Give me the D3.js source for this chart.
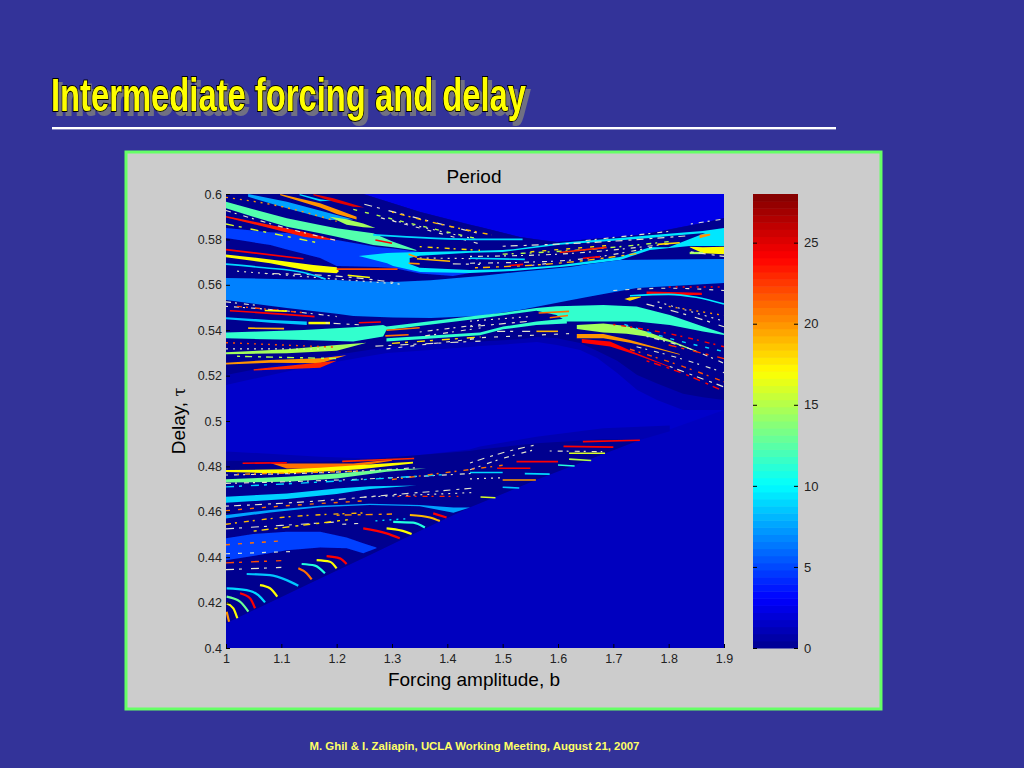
<!DOCTYPE html>
<html><head><meta charset="utf-8">
<script src="https://cdn.jsdelivr.net/npm/d3@7/dist/d3.min.js"></script>
<style>html,body{margin:0;padding:0;background:#333399;overflow:hidden}svg{display:block}</style>
</head><body><svg id="c" width="1024" height="768"></svg>
<script>
const titleText="Intermediate forcing and delay";
const plotTitle="Period";
const xLabel="Forcing amplitude, b";
const footer="M. Ghil & I. Zaliapin, UCLA Working Meeting, August 21, 2007";
const xTicks=[1,1.1,1.2,1.3,1.4,1.5,1.6,1.7,1.8,1.9];
const yTicks=[0.4,0.42,0.44,0.46,0.48,0.5,0.52,0.54,0.56,0.58,0.6];
const cTicks=[0,5,10,15,20,25];

// Regions of the map: each station is [b, tau upper edge, tau lower edge]
const upperSky=[[1.248,.6,.6],[1.291,.6,.5967],[1.351,.6,.5921],[1.459,.6,.5855],[1.531,.6,.5811],[1.598,.6,.5789],[1.743,.6,.5819],[1.862,.6,.5872],[1.9,.6,.5894]];
const lowerTriangle=[[1,.4109,.4],[1.44,.4619,.4],[1.573,.4753,.4],[1.748,.4916,.4],[1.9,.5048,.4]];
const navyOuter=[[1,.6,.5159],[1.139,.6,.5234],[1.248,.6,.5282],[1.291,.5967,.53],[1.351,.5921,.531],[1.441,.5865,.5326],[1.459,.5855,.533],[1.531,.5811,.5342],[1.562,.58,.5348],[1.598,.5789,.5335],[1.64,.5797,.5313],[1.671,.5804,.5278],[1.707,.5811,.5211],[1.743,.5819,.5137],[1.779,.5833,.5093],[1.826,.5856,.5048],[1.862,.5872,.5048],[1.9,.5894,.5048]];
const navyInner=[[1,.6,.5203],[1.139,.6,.5269],[1.248,.6,.531],[1.291,.5967,.5326],[1.351,.5921,.5335],[1.441,.5865,.5348],[1.459,.5855,.535],[1.531,.5811,.536],[1.562,.58,.537],[1.598,.5789,.5365],[1.64,.5797,.5344],[1.671,.5804,.5308],[1.707,.5811,.5265],[1.743,.5819,.5203],[1.779,.5833,.5165],[1.826,.5856,.512],[1.862,.5872,.5105],[1.9,.5894,.5093]];
const lowerOuter=[[1,.4866,.4109],[1.17,.4843,.4306],[1.26,.4835,.441],[1.35,.485,.4515],[1.44,.4875,.4619],[1.459,.4888,.4638],[1.561,.4931,.4741],[1.682,.4968,.4855],[1.748,.4975,.4916],[1.802,.498,.4955]];
const lowerInner=[[1,.4825,.4109],[1.17,.482,.4306],[1.26,.483,.441],[1.35,.485,.4515],[1.44,.4868,.4619],[1.459,.4875,.4638],[1.561,.4902,.4741],[1.682,.492,.4855],[1.748,.4916,.4916]];
const blueBand=[[1,.585,.5806],[1.08,.5832,.5775],[1.11,.5828,.5755],[1.17,.5808,.5718],[1.2,.5797,.5683],[1.273,.5767,.5678],[1.302,.576,.5674],[1.351,.5745,.565],[1.41,.574,.5639],[1.441,.5652,.5652]];
const cyanLobe=[[1.24,.5727,.5727],[1.291,.574,.5695],[1.302,.5741,.5683],[1.351,.5745,.5656],[1.441,.5749,.5652],[1.5,.5753,.5659],[1.519,.5757,.5661],[1.603,.5784,.5678],[1.622,.5788,.5683],[1.712,.5806,.5709],[1.766,.5818,.5753],[1.838,.5833,.5771],[1.862,.5837,.5771],[1.9,.585,.5771]];
const cyanNotch=[[1.332,.5718,.5692],[1.35,.5728,.5675],[1.441,.5741,.5665],[1.5,.5745,.5668],[1.603,.5776,.5686],[1.712,.5796,.5722],[1.766,.5806,.5765],[1.8,.5815,.5765],[1.866,.5828,.5828]];
const wideBand=[[1,.563,.5533],[1.11,.5625,.5498],[1.2,.5621,.5473],[1.23,.5617,.5463],[1.302,.5612,.5456],[1.37,.562,.5454],[1.459,.5639,.5463],[1.531,.5658,.5489],[1.622,.5678,.5532],[1.653,.5691,.5546],[1.712,.5709,.5573],[1.743,.571,.5586],[1.9,.5714,.5608]];
const ribbonA=[[1.04,.6,.5988],[1.11,.5966,.5937],[1.188,.5915,.5886],[1.23,.5888,.5888]];
const ribbonA2=[[1.188,.59,.5899],[1.218,.5889,.5865],[1.248,.587,.5853],[1.27,.585,.585]];
const ribbonB=[[1.098,.6,.5994],[1.17,.5959,.5941],[1.2,.5933,.5912],[1.236,.59,.5888]];
const ribbonC=[[1.158,.6,.5994],[1.194,.5981,.5966],[1.23,.5955,.5944],[1.25,.594,.594]];
const ribbonC2=[[1.133,.6,.5994],[1.17,.5977,.5968],[1.19,.597,.597]];
const ribbonD=[[1,.5966,.5937],[1.049,.5933,.59],[1.11,.5893,.5856],[1.17,.5863,.5827],[1.2,.5849,.5812],[1.266,.5827,.5775],[1.302,.579,.5765],[1.344,.5753,.575]];
const ribbonE=[[1,.5903,.5897],[1.08,.5863,.5849],[1.14,.5834,.5812],[1.176,.5812,.58],[1.2,.5795,.5795]];
const ribbonF=[[1,.5734,.5721],[1.08,.5712,.5695],[1.158,.5687,.5658],[1.2,.5677,.5651],[1.204,.566,.566]];
const ribbonI=[[1,.5457,.5448],[1.08,.5445,.5433],[1.146,.5438,.5423]];
const ribbonI2=[[1.149,.5437,.5426],[1.188,.5437,.5426]];
const ribbonJ=[[1,.539,.5364],[1.14,.5401,.5357],[1.23,.5413,.535],[1.284,.5423,.5372],[1.29,.5416,.5401],[1.459,.5466,.5451],[1.501,.5477,.5466],[1.561,.5498,.5486],[1.597,.5505,.5467],[1.616,.5507,.5438],[1.682,.5511,.5438],[1.742,.5504,.5438],[1.802,.5467,.5423],[1.862,.5416,.5394],[1.9,.5386,.5379]];
const ribbonJ3=[[1.29,.5364,.535],[1.459,.539,.5378],[1.501,.5416,.5404],[1.561,.5438,.5423],[1.616,.5452,.543]];
const ribbonK=[[1,.5303,.5294],[1.11,.5316,.5298],[1.2,.5335,.531],[1.254,.5345,.5345]];
const ribbonL=[[1,.5257,.5249],[1.08,.5269,.5257],[1.17,.5276,.5254],[1.218,.529,.529]];
const ribbonM=[[1.05,.5228,.5222],[1.17,.5258,.5235],[1.2,.5265,.5265]];
const ribbonP=[[1.634,.5423,.5405],[1.682,.543,.539],[1.724,.5419,.5384],[1.76,.5394,.5372],[1.802,.5357,.5348],[1.85,.531,.5305]];
const ribbonQ=[[1.634,.5383,.5364],[1.682,.5383,.5364],[1.73,.5357,.5345],[1.772,.5328,.5322],[1.82,.5295,.5292]];
const ribbonR=[[1.643,.5361,.5345],[1.694,.535,.5328],[1.742,.5298,.5291],[1.802,.524,.5237]];
const ribbonS=[[1.76,.557,.5555],[1.86,.5565,.5555]];
const ribbonS1=[[1.72,.5537,.5537],[1.73,.5545,.553],[1.75,.5548,.5545]];
const ribbonT=[[1.838,.5768,.5765],[1.862,.5765,.5739],[1.9,.5768,.5735]];
const ribbonT1=[[1.838,.5745,.5735],[1.862,.5745,.5735]];
const ribbonT2=[[1.856,.582,.5805],[1.875,.5825,.5817]];
const ribbonV=[[1.08,.4815,.4815],[1.11,.4813,.4791],[1.17,.4813,.4788],[1.23,.4813,.4798],[1.3,.483,.4825]];
const ribbonW=[[1,.4784,.4775],[1.11,.4787,.4769],[1.17,.4794,.4776],[1.242,.4806,.4787],[1.338,.4821,.4813]];
const ribbonX=[[1,.4743,.4729],[1.11,.4754,.4732],[1.2,.4769,.4747],[1.29,.4787,.4776],[1.362,.4791,.4791]];
const ribbonY=[[1,.4666,.464],[1.11,.4681,.4656],[1.2,.4703,.4678],[1.26,.4713,.47],[1.344,.4716,.4716]];
const ribbonZ=[[1,.4586,.4571],[1.08,.4608,.4597],[1.17,.4627,.462],[1.26,.4636,.463],[1.35,.463,.4624],[1.411,.4619,.4596],[1.441,.4619,.4619]];
const ribbonBlob=[[1,.4483,.4387],[1.049,.4502,.4405],[1.11,.4512,.4431],[1.17,.4512,.4443],[1.218,.4487,.4439],[1.248,.4461,.4417],[1.272,.4443,.4439]];
// Drawing order, with the period of each region
const regions=[upperSky,lowerTriangle,navyOuter,navyInner,lowerOuter,lowerInner,blueBand,cyanLobe,cyanNotch,wideBand,ribbonA,ribbonA2,ribbonB,ribbonC,ribbonC2,ribbonD,ribbonE,ribbonF,ribbonI,ribbonI2,ribbonJ,ribbonJ3,ribbonK,ribbonL,ribbonM,ribbonP,ribbonQ,ribbonR,ribbonS,ribbonS1,ribbonT,ribbonT1,ribbonT2,ribbonV,ribbonW,ribbonX,ribbonY,ribbonZ,ribbonBlob];
const regionPeriods=[2.4,1.3,.9,0,.9,0,4.7,9.4,0,6.6,7.5,14.5,20,25,9,12.3,23.5,17,8.5,17,11.4,11.4,14.5,20,23,14.5,20,24,24,18,17,14.5,20,21,17,13,8.8,7.5,4.8];
const basePeriod=1.6;

// Narrow period-bands that read as single lines: [b, tau]
const lineTracks=[
[[1,.5755],[1.14,.5715]],[[1,.5691],[1.07,.5675],[1.14,.5654],[1.18,.5625]],[[1.266,.582],[1.459,.58],[1.536,.58]],[[1.27,.5797],[1.3,.5783]],
[[1.2,.5669],[1.31,.5669]],[[1.22,.5642],[1.26,.5632]],[[1.345,.5715],[1.405,.5704]],[[1.603,.5742],[1.688,.5765]],[[1.441,.5717],[1.54,.5712]],[[1.645,.5717],[1.676,.5724]],[[1.513,.5685],[1.537,.569]],
[[1.007,.5486],[1.1,.5471],[1.16,.546]],[[1.07,.5487],[1.11,.5484]],[[1.04,.5409],[1.105,.5407]],[[1.24,.5433],[1.28,.5436]],[[1.29,.54],[1.35,.5411]],[[1.288,.5375],[1.33,.538]],
[[1.565,.5476],[1.62,.5483]],[[1.585,.5455],[1.618,.5465]],[[1.561,.5395],[1.6,.5395]],[[1.73,.5552],[1.8,.5558],[1.85,.5545],[1.9,.5515]],[[1.33,.5735],[1.345,.5721]],[[1.33,.5695],[1.35,.5692]],
[[1.78,.5778],[1.82,.5785]],[[1.03,.4814],[1.11,.4816]],[[1.21,.4822],[1.34,.4835]],[[1.62,.4858],[1.685,.4858]],[[1.62,.4832],[1.66,.4826]],[[1.6,.4806],[1.63,.4802]],[[1.54,.4768],[1.585,.4766]],[[1.5,.4708],[1.53,.4705]],[[1.46,.4665],[1.487,.4662]],[[1.5,.474],[1.56,.474]],[[1.645,.4909],[1.748,.4915]],[[1.61,.4888],[1.7,.4885]],[[1.525,.4821],[1.6,.4821]],[[1.49,.4792],[1.55,.4792]],[[1.441,.4773],[1.5,.4773]]
];
const lineTrackPeriods=[24,9,9,24,22,17,19,23,9,24,24,24,17,19,24,21,21,21,21,19,9.5,20,20,18,24,23,16,15,11,9,8.5,16,20,24,24,24,24,9];

// Broken tracks in the chaotic wedges, coloured by period: [b, tau]
const brokenTracks=[
[[1,.5985],[1.1,.5945],[1.2,.588]],[[1,.5868],[1.17,.5783]],[[1.23,.5932],[1.36,.5855],[1.459,.58]],[[1.35,.5768],[1.459,.5752]],
[[1.5,.5735],[1.65,.5755],[1.8,.579]],[[1.45,.5675],[1.6,.5695],[1.75,.574]],[[1,.5345],[1.2,.5325]],[[1.3,.5342],[1.46,.537]],
[[1.72,.5425],[1.8,.5365],[1.9,.5306]],[[1.7,.5425],[1.8,.5385],[1.9,.5327]],[[1.73,.5316],[1.82,.5245],[1.9,.5173]],[[1.76,.5265],[1.82,.5215],[1.9,.513]],[[1.8,.559],[1.9,.559]],
[[1,.471],[1.2,.4735],[1.4,.4765]],[[1,.4605],[1.1,.4625],[1.25,.4648]],[[1.31,.4668],[1.42,.4668]],[[1,.4545],[1.1,.4575],[1.25,.4595]],[[1.2,.4585],[1.3,.459]],[[1.27,.456],[1.33,.457]],[[1,.4375],[1.1,.4385]],[[1,.4455],[1.1,.4472]],
[[1.3,.592],[1.4,.586],[1.48,.582]],[[1.02,.5505],[1.15,.5475]],[[1.02,.5285],[1.2,.5275]],[[1.8,.5505],[1.9,.5465]],[[1.8,.5335],[1.9,.5275]],[[1.55,.5745],[1.7,.5775]],[[1.02,.4765],[1.25,.478]],[[1.3,.4742],[1.5,.4805]],[[1.05,.4515],[1.22,.4565]]
];
const brokenTrackPeriods=[20,16,15,18,15,19,22,18,9,24,22,24,24,9,21,23,19,20,9,22,21,19,22,15,20,23,18,20,21,18];

// Broken tracks of very pale dashes: [b, tau]
const paleTracks=[
[[1,.5927],[1.11,.5849],[1.2,.5795]],[[1.07,.565],[1.2,.5638],[1.28,.5618],[1.31,.5608]],[[1.02,.566],[1.2,.5625],[1.32,.5602]],[[1.25,.5955],[1.36,.5885],[1.459,.5825]],[[1.28,.5895],[1.459,.578]],
[[1.441,.5725],[1.6,.5735],[1.8,.578]],[[1.441,.5695],[1.6,.5705],[1.77,.5765]],[[1.5,.577],[1.65,.5785],[1.83,.5815]],[[1.35,.5718],[1.459,.5715]],[[1.41,.5692],[1.459,.569]],[[1.55,.5685],[1.585,.5695]],
[[1,.5505],[1.1,.5487],[1.2,.546]],[[1,.5525],[1.06,.5508]],[[1.18,.5432],[1.24,.5424]],[[1,.5318],[1.18,.5317]],[[1.27,.533],[1.46,.5352]],[[1.29,.5318],[1.46,.5365]],[[1.35,.5392],[1.46,.5425]],[[1.36,.5375],[1.46,.541]],
[[1.441,.5415],[1.55,.544]],[[1.441,.544],[1.55,.546]],[[1.49,.5395],[1.555,.5395]],[[1.441,.5365],[1.62,.5385]],[[1.76,.5372],[1.83,.5325],[1.9,.5254]],[[1.742,.5327],[1.82,.5276],[1.9,.5213]],[[1.802,.524],[1.9,.515]],[[1.78,.5525],[1.85,.5475],[1.9,.544]],[[1.76,.5515],[1.85,.5455],[1.9,.5415]],[[1.7,.5575],[1.8,.5585],[1.9,.5575]],
[[1,.4762],[1.2,.4775],[1.35,.4795]],[[1,.4725],[1.3,.475],[1.45,.477]],[[1,.4625],[1.15,.4645],[1.3,.4675],[1.45,.4705]],[[1.25,.4665],[1.45,.4685]],[[1,.4525],[1.1,.454],[1.2,.4555]],[[1.21,.4545],[1.25,.455]],[[1.585,.4868],[1.68,.4865]],[[1.441,.4785],[1.5,.4835],[1.56,.4875]],[[1.441,.4815],[1.5,.486],[1.56,.4895]],[[1.441,.4745],[1.5,.475]],[[1,.4345],[1.1,.4355]],[[1,.4415],[1.12,.4425]],
[[1.84,.5868],[1.9,.589]],[[1.65,.5795],[1.8,.5835]],[[1.84,.5745],[1.9,.5725]],[[1.3,.5885],[1.46,.5795]]
];

// Curved period-bands fanning into the diagonal edge: [b, tau]
const arcTracks=[
[[1.0374,.4326],[1.0795,.4321],[1.1096,.4299],[1.1307,.4274]],[[1.0012,.4263],[1.0374,.4255],[1.0584,.4233],[1.0705,.4201]],[[1.0614,.4277],[1.0795,.4263],[1.0927,.4226]],[[1.0253,.4241],[1.0434,.4219],[1.0524,.4175]],[[1.0012,.4226],[1.0253,.4204],[1.0404,.416]],[[1.0012,.4197],[1.0133,.4175],[1.0205,.4131]],[[1.0012,.416],[1.0055,.4116]],[[1.1307,.4351],[1.1457,.4329],[1.1548,.4302]],[[1.1367,.437],[1.1608,.4363],[1.1788,.4329]],[[1.1638,.4387],[1.1879,.438],[1.1999,.4351]],[[1.1818,.4405],[1.2059,.4395],[1.218,.437]],[[1.2902,.4527],[1.3173,.4517],[1.3354,.4502]],[[1.3022,.4556],[1.3384,.4552],[1.3594,.4531]],[[1.3323,.4586],[1.3685,.4575],[1.3865,.4559]],[[1.248,.4527],[1.29,.4505],[1.314,.4483]],[[1.3745,.4593],[1.3986,.4575]]
];
const arcPeriods=[8.5,9,17,24,13,17,20,21,11,17,24,17,11,19,24,24];

const svg=d3.select("#c").style("font-family","'Liberation Sans',Arial,sans-serif");
svg.append("rect").attr("width",1024).attr("height",768).attr("fill","#333399");
const defs=svg.append("defs");
defs.append("filter").attr("id","soft").append("feGaussianBlur").attr("stdDeviation",.35);
const shadow=defs.append("filter").attr("id","titleShadow").attr("x","-2%").attr("y","-10%").attr("width","104%").attr("height","125%");
shadow.append("feDropShadow").attr("dx",4).attr("dy",4).attr("stdDeviation",.7).attr("flood-color","#6f6f82").attr("flood-opacity",1);
defs.append("clipPath").attr("id","plotclip").append("rect").attr("x",226).attr("y",194).attr("width",498).attr("height",454);

// Title
svg.append("text").attr("x",51).attr("y",111).attr("textLength",475).attr("lengthAdjust","spacingAndGlyphs")
 .attr("font-family","'Liberation Sans Narrow','Liberation Sans',sans-serif").attr("font-size",47).attr("font-weight",700)
 .attr("fill","#ffff00").attr("stroke","#000").attr("stroke-width",2.2).attr("paint-order","stroke").attr("filter","url(#titleShadow)").text(titleText);
svg.append("rect").attr("x",52).attr("y",127).attr("width",784).attr("height",2.4).attr("fill","#fff");

// Panel
svg.append("rect").attr("x",126).attr("y",152).attr("width",755).attr("height",557).attr("fill","#cccccc").attr("stroke","#66ff66").attr("stroke-width",3);

// Scales
const x=d3.scaleLinear().domain([1,1.9]).range([226,724]);
const y=d3.scaleLinear().domain([.4,.6]).range([648,194]);
const cy=d3.scaleLinear().domain([0,28]).range([648,194]);
const jetStops=[0,7/64,23/64,39/64,55/64,1];
const jet=d3.scaleLinear().domain(jetStops.map(t=>t*28)).range(["#00008f","#0000ff","#00ffff","#ffff00","#ff0000","#800000"]).interpolate(d3.interpolateRgb).clamp(true);

// Map
const map=svg.append("g").attr("clip-path","url(#plotclip)").append("g").attr("filter","url(#soft)");
map.append("rect").attr("x",x(1)).attr("y",y(.6)).attr("width",x(1.9)-x(1)).attr("height",y(.4)-y(.6)).attr("fill",jet(basePeriod));
const area=d3.area().x(d=>x(d[0])).y0(d=>y(d[1])).y1(d=>y(d[2]));
map.selectAll("path.region").data(regions).join("path").attr("class","region").attr("d",area).attr("fill",(d,i)=>jet(regionPeriods[i]));
const line=d3.line().x(d=>x(d[0])).y(d=>y(d[1])).curve(d3.curveMonotoneX);
const dashes=["5 4 2 7","3 5 7 6","2 5","8 5 3 9","4 8","2 6 5 4"];
map.selectAll("path.pale").data(paleTracks).join("path").attr("class","pale").attr("d",line).attr("fill","none").attr("stroke","#e4e4cc").attr("stroke-width",1.15).attr("stroke-dasharray",(d,i)=>dashes[i%dashes.length]);
map.selectAll("path.broken").data(brokenTracks).join("path").attr("class","broken").attr("d",line).attr("fill","none").attr("stroke",(d,i)=>jet(brokenTrackPeriods[i])).attr("stroke-width",1.4).attr("stroke-dasharray",(d,i)=>dashes[(i+2)%dashes.length]);
map.selectAll("path.track").data(lineTracks).join("path").attr("class","track").attr("d",line).attr("fill","none").attr("stroke",(d,i)=>jet(lineTrackPeriods[i])).attr("stroke-width",1.6);
map.selectAll("path.arc").data(arcTracks).join("path").attr("class","arc").attr("d",line).attr("fill","none").attr("stroke",(d,i)=>jet(arcPeriods[i])).attr("stroke-width",2.2);

// Axes
const tickStyle=size=>g=>{g.select(".domain").remove();g.selectAll("line").attr("stroke","#000");g.selectAll("text").attr("fill","#222").attr("font-size",size).attr("font-family","'Liberation Sans',Arial,sans-serif");};
svg.append("g").attr("transform","translate(0,648)").call(d3.axisBottom(x).tickValues(xTicks).tickFormat(d3.format("~g")).tickSizeInner(-4).tickPadding(6)).call(tickStyle(12.5));
svg.append("g").attr("transform","translate(226,0)").call(d3.axisLeft(y).tickValues(yTicks).tickFormat(d3.format("~g")).tickSizeInner(-4).tickPadding(4)).call(tickStyle(12.5));

// Colour bar
const levels=d3.range(64);
svg.append("g").selectAll("rect").data(levels).join("rect").attr("x",753).attr("width",45)
 .attr("y",d=>cy((d+1)*28/64)).attr("height",d=>cy(d*28/64)-cy((d+1)*28/64)+.5).attr("fill",d=>jet((d+.5)*28/64));
svg.append("g").attr("transform","translate(798,0)").call(d3.axisRight(cy).tickValues(cTicks).tickSizeInner(-4).tickPadding(6)).call(tickStyle(13));
svg.append("g").attr("transform","translate(753,0)").call(d3.axisRight(cy).tickValues(cTicks).tickSizeInner(4).tickFormat("")).call(tickStyle(13));

// Labels
svg.append("text").attr("x",474).attr("y",183).attr("text-anchor","middle").attr("font-size",19).attr("fill","#000").text(plotTitle);
svg.append("text").attr("x",474).attr("y",686).attr("text-anchor","middle").attr("font-size",19).attr("fill","#000").text(xLabel);
const yl=svg.append("text").attr("transform","translate(185,421) rotate(-90)").attr("text-anchor","middle").attr("font-size",19).attr("fill","#000");
yl.append("tspan").text("Delay, ");yl.append("tspan").attr("font-family","'DejaVu Serif',serif").attr("font-size",16).text("τ");
svg.append("text").attr("x",474.5).attr("y",750).attr("text-anchor","middle").attr("font-size",11.4).attr("font-weight",700).attr("fill","#ffff66").text(footer);
</script></body></html>
